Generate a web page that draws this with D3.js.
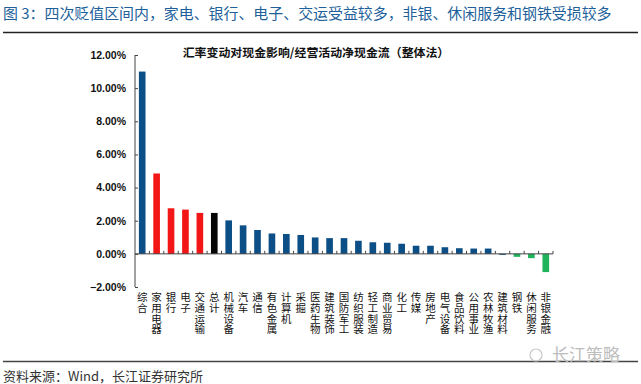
<!DOCTYPE html>
<html><head><meta charset="utf-8">
<script src="https://cdn.jsdelivr.net/npm/d3@7/dist/d3.min.js"></script>
<style>
body{margin:0;background:#fff;}
svg{display:block;}
</style></head>
<body><svg id="c" width="641" height="384"></svg>
<script>
const categories = ["综合","家用电器","银行","电子","交通运输","总计","机械设备","汽车","通信","有色金属","计算机","采掘","医药生物","建筑装饰","国防军工","纺织服装","轻工制造","商业贸易","化工","传媒","房地产","电气设备","食品饮料","公用事业","农林牧渔","建筑材料","钢铁","休闲服务","非银金融"];
const values = [11.0,4.85,2.75,2.67,2.47,2.47,2.02,1.72,1.44,1.23,1.2,1.14,0.99,0.95,0.95,0.79,0.7,0.67,0.61,0.49,0.49,0.4,0.34,0.32,0.32,-0.03,-0.18,-0.26,-1.1];
const groups = ["blue","red","red","red","red","black","blue","blue","blue","blue","blue","blue","blue","blue","blue","blue","blue","blue","blue","blue","blue","blue","blue","blue","blue","blue","green","green","green"];
const yTicks = [-2,0,2,4,6,8,10,12];
const colorMap = {blue:"#0b4f86", red:"#f21616", black:"#050505", green:"#1fb35b"};

const svg = d3.select("#c");
const cjk = "'Noto Sans CJK SC','Noto Sans',sans-serif";

// header
const title = svg.append("text").attr("x",3).attr("y",19).attr("font-family",cjk).attr("font-size",15)
  .attr("fill","#215f9a").text("图 3：四次贬值区间内，家电、银行、电子、交运受益较多，非银、休闲服务和钢铁受损较多");
const tw = title.node().getComputedTextLength();
title.attr("font-size", 15*609/tw);
svg.append("line").attr("x1",3).attr("x2",638).attr("y1",32.5).attr("y2",32.5).attr("stroke","#222").attr("stroke-width",1.5);
svg.append("line").attr("x1",3).attr("x2",638).attr("y1",361.5).attr("y2",361.5).attr("stroke","#444").attr("stroke-width",1.5);
svg.append("text").attr("x",3).attr("y",381).attr("font-family",cjk).attr("font-size",13)
  .attr("fill","#333").text("资料来源：Wind，长江证券研究所");
// watermark
svg.append("text").attr("x",552).attr("y",361).attr("font-family",cjk).attr("font-size",17)
  .attr("fill","#bdbdbd").text("长江策略");
svg.append("circle").attr("cx",536).attr("cy",355).attr("r",6).attr("fill","none").attr("stroke","#c8c8c8").attr("stroke-width",1.2);

// chart title
const ct = svg.append("text").attr("x",316).attr("y",57).attr("text-anchor","middle").attr("font-family",cjk)
  .attr("font-size",12).attr("font-weight","bold").attr("fill","#111").text("汇率变动对现金影响/经营活动净现金流（整体法）");
const cw = ct.node().getComputedTextLength();
ct.attr("font-size", 12*267/cw);

const x = d3.scaleBand().domain(categories).range([135,553]).paddingInner(0.54).paddingOuter(0.27);
const y = d3.scaleLinear().domain([-2,12]).range([287,55]);

// bars
svg.append("g").selectAll("rect").data(values).join("rect")
  .attr("x",(d,i)=>x(categories[i]))
  .attr("width",x.bandwidth())
  .attr("y",d=>y(Math.max(0,d)))
  .attr("height",d=>Math.max(1,Math.abs(y(d)-y(0))))
  .attr("fill",(d,i)=>colorMap[groups[i]]);

// y axis
const yAxis = d3.axisLeft(y).tickValues(yTicks).tickSize(-3).tickPadding(9)
  .tickFormat(d=>d3.format(".2f")(d)+"%");
const ya = svg.append("g").attr("transform","translate(135,0)").call(yAxis);
ya.select(".domain").attr("stroke","#444").attr("d","M0,55V287");
ya.selectAll(".tick line").attr("stroke","#444");
ya.selectAll("text").attr("font-family","'Liberation Sans',Arial,sans-serif").attr("font-weight","bold")
  .attr("font-size",10.5).attr("fill","#111");

// x axis at zero
const step = x.step();
const xa = svg.append("g").attr("transform",`translate(0,${y(0)})`);
xa.append("line").attr("x1",135).attr("x2",553).attr("stroke","#444").attr("stroke-width",1);
xa.selectAll("line.t").data(categories).join("line").attr("class","t")
  .attr("x1",d=>x(d)+x.bandwidth()/2+step/2).attr("x2",d=>x(d)+x.bandwidth()/2+step/2)
  .attr("y1",0).attr("y2",-3).attr("stroke","#444");

// category labels (vertical, one char per line, single text element with per-glyph positions)
svg.append("g").selectAll("text").data(categories).join("text")
  .attr("font-family",cjk).attr("font-size",10.5).attr("fill","#111").attr("text-anchor","middle")
  .attr("x",d=>Array.from(d).map(()=>x(d)+x.bandwidth()/2).join(" "))
  .attr("y",d=>Array.from(d).map((c,i)=>301+i*10.8).join(" "))
  .text(d=>d);
</script></body></html>
